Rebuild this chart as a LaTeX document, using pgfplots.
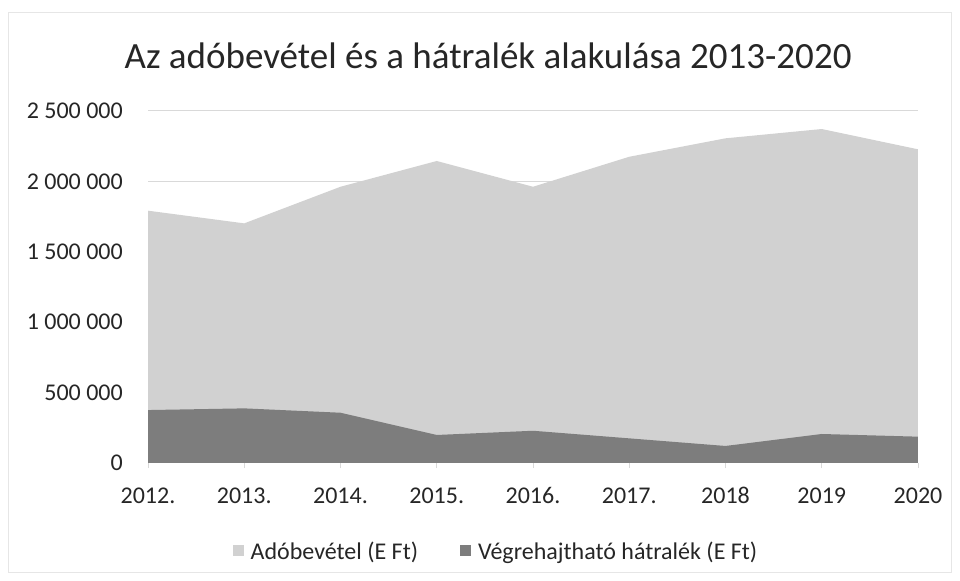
\documentclass[border=0pt]{standalone}
\usepackage{pgfplots}
\pgfplotsset{compat=1.18}
\usepackage{fontspec}
\setmainfont{Carlito}
\definecolor{lightarea}{HTML}{D1D1D1}
\definecolor{lightleg}{HTML}{DCDCDC}
\definecolor{darkarea}{HTML}{7D7D7D}
\definecolor{gridc}{HTML}{D9D9D9}
\definecolor{txt}{HTML}{262626}
\definecolor{frame}{HTML}{E6E6E6}
\begin{document}
\begin{tikzpicture}
\path (0bp,0bp) rectangle (960bp,581bp);
\draw[frame, line width=1bp] (8bp,8bp) rectangle (951bp,568bp);
\begin{axis}[
  at={(148bp,118bp)}, anchor=south west,
  scale only axis, width=770bp, height=352bp,
  xmin=0, xmax=8, ymin=0, ymax=2500000,
  xtick={0,1,2,3,4,5,6,7,8},
  xticklabels={2012.,2013.,2014.,2015.,2016.,2017.,2018,2019,2020},
  ytick={0,500000,1000000,1500000,2000000,2500000},
  yticklabels={0,500 000,1 000 000,1 500 000,2 000 000,2 500 000},
  scaled y ticks=false,
  axis x line*=bottom, axis y line*=left,
  x axis line style={draw=gridc, line width=1bp, -},
  y axis line style={draw=none},
  ymajorgrids, grid style={draw=gridc, line width=1bp},
  major tick length=5bp, tick align=outside,
  xtick style={draw=gridc, line width=0.8bp},
  ytick style={draw=none},
  tick label style={font=\fontsize{24bp}{28bp}\selectfont, text=txt},
  yticklabel style={inner sep=0pt, xshift=-20bp},
  xticklabel style={anchor=base, inner sep=0pt, yshift=-35bp},
  title={Az adóbevétel és a hátralék alakulása 2013-2020},
  title style={at={(0.4416,1)}, anchor=base, yshift=37bp, inner sep=0pt,
    font=\fontsize{37bp}{44bp}\selectfont, text=txt},
  legend columns=2,
  legend style={at={(0.4506,-0.25)}, anchor=center, draw=none, fill=none,
    font=\fontsize{24bp}{28bp}\selectfont, text=txt,
    /tikz/every even column/.append style={column sep=42bp},
    /tikz/every odd column/.append style={column sep=7bp},
    inner sep=0pt, nodes={inner sep=0pt}},
  legend image code/.code={\fill[#1] (0bp,-5bp) rectangle (11bp,6bp);},
]
\addplot[fill=lightarea, draw=none] coordinates {
  (0,1792000) (1,1702000) (2,1962000) (3,2145000) (4,1962000)
  (5,2175000) (6,2306000) (7,2372000) (8,2228000)
} \closedcycle;
\addlegendentry{Adóbevétel (E Ft)}
\addplot[fill=darkarea, draw=none] coordinates {
  (0,376000) (1,388000) (2,357000) (3,199000) (4,229000)
  (5,175000) (6,121000) (7,206000) (8,187000)
} \closedcycle;
\addlegendentry{Végrehajtható hátralék (E Ft)}
\end{axis}
\end{tikzpicture}
\end{document}
